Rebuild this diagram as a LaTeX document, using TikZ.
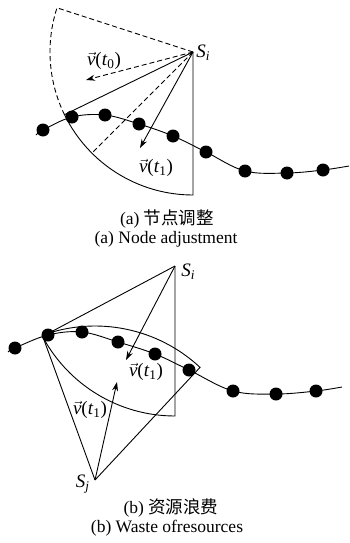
\documentclass[tikz,border=0pt]{standalone}
\usepackage{fontspec}
\setmainfont{Liberation Serif}
\newfontfamily\cjk{Noto Sans CJK SC}
\usetikzlibrary{arrows.meta}
\begin{document}
\begin{tikzpicture}[x=1pt,y=1pt, line width=0.9pt,
 vec/.style={-{Stealth[length=9pt,width=6pt]}},
 dsh/.style={dash pattern=on 5pt off 3pt},
 dotn/.style={circle,fill=black,inner sep=0pt,minimum size=13pt},
 lbl/.style={font=\fontsize{19}{21}\selectfont, inner sep=1pt},
 captxt/.style={font=\fontsize{17.5}{20}\selectfont, inner sep=0pt}]
\useasboundingbox (0,0) rectangle (349,-543);
% ---------- (a) ----------
\coordinate (Si) at (193,-52);
\node[lbl,anchor=west] (SiL) at (195,-53) {\textit{S}\textsubscript{\textit{i}}};
\draw[dsh] (Si) -- ++(162:143) coordinate (A0) arc[start angle=162,end angle=206,radius=143] coordinate (A1);
\draw (Si) -- (A1) arc[start angle=206,end angle=270,radius=143] coordinate (A2) -- (Si);
\draw[dsh] (Si) -- ++(225:143) coordinate (A3);
\coordinate (V0) at (86,-80);
\draw[vec,dsh] (Si) -- (V0);
\coordinate (V1) at (140,-148);
\draw[vec] (Si) -- (V1);
\node[lbl] (L0) at (104,-61) {$\vec{\hbox{\textit{v}}}$(\textit{t}\textsubscript{0})};
\node[lbl] (L1) at (156,-168) {$\vec{\hbox{\textit{v}}}$(\textit{t}\textsubscript{1})};
\draw plot[smooth,tension=0.6] coordinates {(36,-135) (43,-130) (72,-117) (105,-115) (139,-124) (173,-136) (206,-152) (245,-171) (287,-173) (323,-170) (349,-166)};
\foreach \p [count=\k] in {(43,-130),(72,-117),(105,-115),(139,-124),(173,-136),(206,-152),(245,-171),(287,-173),(323,-170)}
  \node[dotn] (da\k) at \p {};
\node[captxt] (ca1) at (167,-219) {(a) {\cjk 节点调整}};
\node[captxt] (ca2) at (166,-239) {(a) Node adjustment};
% ---------- (b) ----------
\coordinate (Sb) at (175,-266);
\node[lbl,anchor=west] (SbL) at (180,-272) {\textit{S}\textsubscript{\textit{i}}};
\draw (Sb) -- ++(208:150) coordinate (B1) arc[start angle=208,end angle=270,radius=150] coordinate (B2) -- (Sb);
\coordinate (Sj) at (95,-480);
\node[lbl,anchor=east] (SjL) at (91,-484) {\textit{S}\textsubscript{\textit{j}}};
\draw (Sj) -- ++(47:154) coordinate (C1) arc[start angle=47,end angle=110,radius=154] coordinate (C2) -- (Sj);
\coordinate (W1) at (126,-360);
\draw[vec] (Sb) -- (W1);
\coordinate (W2) at (117,-382);
\draw[vec] (Sj) -- (W2);
\node[lbl] (L2) at (146,-372) {$\vec{\hbox{\textit{v}}}$(\textit{t}\textsubscript{1})};
\node[lbl] (L3) at (90,-410) {$\vec{\hbox{\textit{v}}}$(\textit{t}\textsubscript{1})};
\draw plot[smooth,tension=0.6] coordinates {(8,-352) (15,-348) (48,-335) (82,-332) (118,-342) (155,-354) (189,-370) (233,-391) (276,-394) (316,-391) (342,-387)};
\foreach \p [count=\k] in {(15,-348),(48,-335),(82,-332),(118,-342),(155,-354),(189,-370),(233,-391),(276,-394),(316,-391)}
  \node[dotn] (db\k) at \p {};
\node[captxt] (cb1) at (171,-508) {(b) {\cjk 资源浪费}};
\node[captxt] (cb2) at (167,-528) {(b) Waste ofresources};
\end{tikzpicture}
\end{document}
